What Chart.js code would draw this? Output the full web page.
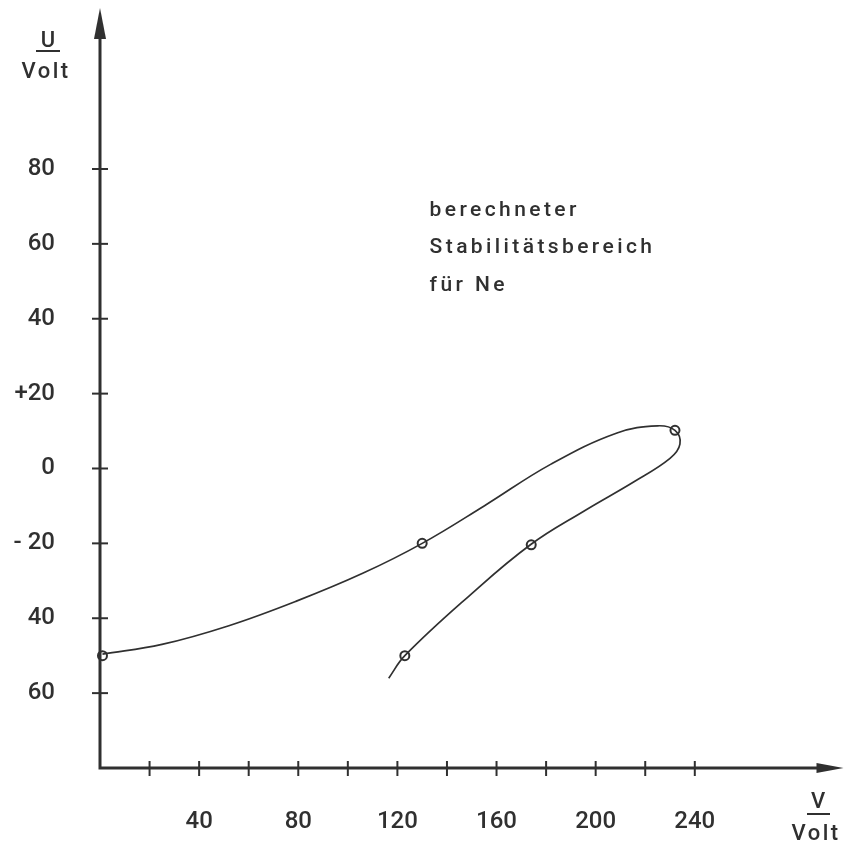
<!DOCTYPE html>
<html>
<head>
<meta charset="utf-8">
<script src="https://cdn.jsdelivr.net/npm/chart.js@4/dist/chart.umd.min.js"></script>
<style>
  html, body { margin: 0; padding: 0; background: #ffffff; }
  #wrap { width: 850px; height: 849px; }
</style>
</head>
<body>
<div id="wrap"><canvas id="c" width="850" height="849"></canvas></div>
<script>
// ---- data ----
const curveV = [1, 25, 52, 79, 106, 130, 155, 181.8, 208.6, 225, 232, 234, 230, 215.3, 195.2, 173.8, 149, 123, 116.5];
const curveU = [-49.6, -47, -42, -35.5, -28, -20, -10, 1.1, 9.5, 11.4, 10.2, 6.5, 2.7, -3.6, -11.4, -20.3, -34, -50, -56];
const pointV = [1, 130, 174, 123, 232];
const pointU = [-50, -20, -20.4, -50, 10.2];
const xTickValues = [20, 40, 60, 80, 100, 120, 140, 160, 180, 200, 220, 240];
const xTickLabels = [40, 80, 120, 160, 200, 240];
const yTickValues = [80, 60, 40, 20, 0, -20, -40, -60];
const yTickLabels = ['80', '60', '40', '+20', '0', '- 20', '40', '60'];
const annotationLines = ['berechneter', 'Stabilitätsbereich', 'für Ne'];
const yTitle = ['U', 'Volt'];
const xTitle = ['V', 'Volt'];

const INK = '#303030';
const FONT = 'Roboto, "DejaVu Sans", sans-serif';

const curveData = curveV.map((v, i) => ({ x: v, y: curveU[i] }));
const pointData = pointV.map((v, i) => ({ x: v, y: pointU[i] }));

const axesPlugin = {
  id: 'axesPlugin',
  beforeDatasetsDraw(chart) {
    const ctx = chart.ctx;
    const xs = chart.scales.x, ys = chart.scales.y;
    const ox = xs.getPixelForValue(0), oy = ys.getPixelForValue(-80);
    const topY = chart.chartArea.top, rightX = chart.chartArea.right;
    ctx.save();
    ctx.strokeStyle = INK; ctx.fillStyle = INK;
    ctx.lineWidth = 3; ctx.lineCap = 'butt';
    ctx.beginPath();
    ctx.moveTo(ox, topY + 28); ctx.lineTo(ox, oy); ctx.lineTo(rightX - 24, oy);
    ctx.stroke();
    // arrows
    ctx.beginPath();
    ctx.moveTo(ox, topY); ctx.lineTo(ox - 6, topY + 31); ctx.lineTo(ox + 6, topY + 31); ctx.closePath(); ctx.fill();
    ctx.beginPath();
    ctx.moveTo(rightX, oy); ctx.lineTo(rightX - 27, oy - 5); ctx.lineTo(rightX - 27, oy + 5); ctx.closePath(); ctx.fill();
    // tick marks
    ctx.lineWidth = 2;
    yTickValues.forEach(v => {
      const p = ys.getPixelForValue(v);
      ctx.beginPath(); ctx.moveTo(ox - 8, p); ctx.lineTo(ox + 8, p); ctx.stroke();
    });
    xTickValues.forEach(v => {
      const p = xs.getPixelForValue(v);
      ctx.beginPath(); ctx.moveTo(p, oy - 7); ctx.lineTo(p, oy + 8); ctx.stroke();
    });
    ctx.restore();
  },
  afterDraw(chart) {
    const ctx = chart.ctx;
    const xs = chart.scales.x, ys = chart.scales.y;
    ctx.save();
    ctx.fillStyle = INK; ctx.strokeStyle = INK;
    // annotation
    ctx.font = '500 21px ' + FONT;
    ctx.letterSpacing = '3.4px';
    ctx.textAlign = 'left'; ctx.textBaseline = 'alphabetic';
    const ax = xs.getPixelForValue(133);
    const ay = ys.getPixelForValue(67.5);
    annotationLines.forEach((t, i) => ctx.fillText(t, ax, ay + i * 37.5));
    // y title (U over Volt)
    ctx.textAlign = 'center';
    ctx.font = '500 22px ' + FONT;
    ctx.letterSpacing = '0px';
    ctx.fillText(yTitle[0], 48, 47);
    ctx.lineWidth = 2;
    ctx.beginPath(); ctx.moveTo(36, 51); ctx.lineTo(60, 51); ctx.stroke();
    ctx.letterSpacing = '2.5px';
    ctx.fillText(yTitle[1], 46, 78);
    // x title (V over Volt)
    ctx.letterSpacing = '0px';
    ctx.fillText(xTitle[0], 818, 808);
    ctx.beginPath(); ctx.moveTo(807, 814); ctx.lineTo(830, 814); ctx.stroke();
    ctx.letterSpacing = '2.5px';
    ctx.fillText(xTitle[1], 816, 840);
    ctx.restore();
  }
};

new Chart(document.getElementById('c'), {
  type: 'scatter',
  data: {
    datasets: [
      {
        data: curveData,
        showLine: true,
        tension: 0.4,
        borderColor: INK,
        borderWidth: 1.7,
        pointRadius: 0,
        pointHoverRadius: 0,
        fill: false,
        clip: false
      },
      {
        data: pointData,
        showLine: false,
        pointRadius: 4.5,
        pointBorderWidth: 2,
        pointBorderColor: INK,
        pointBackgroundColor: ['rgba(255,255,255,0)', '#ffffff', '#ffffff', '#ffffff', '#ffffff'],
        clip: false
      }
    ]
  },
  options: {
    responsive: false,
    animation: false,
    devicePixelRatio: 1,
    layout: { padding: { top: 8, right: 2, left: 0, bottom: 0 } },
    plugins: { legend: { display: false }, tooltip: { enabled: false } },
    scales: {
      x: {
        type: 'linear',
        min: 0, max: 300,
        grid: { display: false, drawTicks: false },
        border: { display: false },
        afterFit: (s) => { s.height = 81; s.paddingLeft = 0; s.paddingRight = 0; },
        ticks: {
          stepSize: 20,
          autoSkip: false,
          maxRotation: 0,
          padding: 40,
          color: INK,
          font: { family: FONT, size: 24, weight: '500' },
          callback: (v) => xTickLabels.includes(v) ? String(v) : ''
        }
      },
      y: {
        type: 'linear',
        min: -80, max: 123,
        grid: { display: false, drawTicks: false },
        border: { display: false },
        afterFit: (s) => { s.width = 100; s.paddingTop = 0; s.paddingBottom = 0; },
        ticks: {
          stepSize: 20,
          autoSkip: false,
          padding: 45,
          color: INK,
          font: { family: FONT, size: 24, weight: '500' },
          callback: (v) => {
            const i = yTickValues.indexOf(v);
            return i >= 0 ? yTickLabels[i] : '';
          }
        }
      }
    }
  },
  plugins: [axesPlugin]
});
</script>
</body>
</html>
